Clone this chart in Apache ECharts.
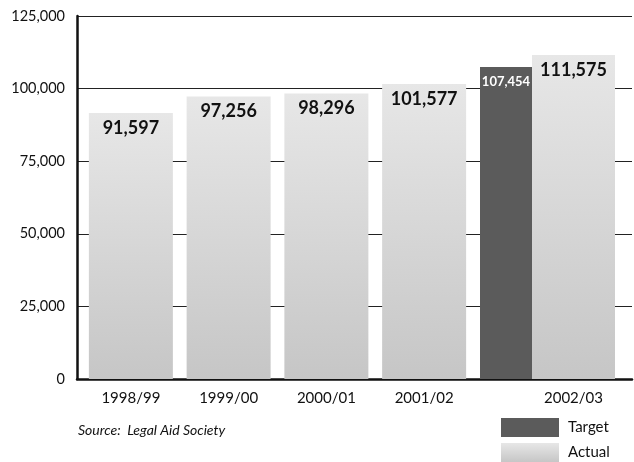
<!DOCTYPE html>
<html>
<head>
<meta charset="utf-8">
<script src="https://cdn.jsdelivr.net/npm/echarts@6/dist/echarts.min.js"></script>
<style>
  html, body { margin: 0; padding: 0; background: #fff; }
  #main { width: 634px; height: 462px; }
</style>
</head>
<body>
<div id="main"></div>
<script>
var years = ['1998/99', '1999/00', '2000/01', '2001/02'];
var actualValues = [91597, 97256, 98296, 101577];
var lastYear = ['2002/03'];
var lastActual = [111575];
var lastTarget = [107454];
var yTicks = [0, 25000, 50000, 75000, 100000, 125000];

var font = "Lato, 'Noto Sans', sans-serif";
function fmt(v) { return Number(v).toLocaleString('en-US'); }

var lightGray = new echarts.graphic.LinearGradient(0, 0, 0, 1, [
    { offset: 0, color: '#e7e7e7' },
    { offset: 1, color: '#c6c6c6' }
]);
var darkGray = '#5b5b5b';

var chart = echarts.init(document.getElementById('main'), null, { renderer: 'canvas' });

var yMin = yTicks[0], yMax = yTicks[yTicks.length - 1], yStep = yTicks[1] - yTicks[0];

var barLabel = {
    show: true, position: 'insideTop', distance: 6, fontFamily: font, fontSize: 18,
    fontWeight: 'bold', color: '#111', formatter: function (p) { return fmt(p.value); }
};

var option = {
    backgroundColor: '#ffffff',
    animation: false,
    grid: [
        { left: 77, right: 2, top: 16, bottom: 83 },   // frame, y axis, gridlines
        { left: 82, width: 391, top: 16, bottom: 83 }, // four earlier years
        { left: 473, width: 149, top: 16, bottom: 83 } // 2002/03 group
    ],
    xAxis: [
        { gridIndex: 0, type: 'value', min: 0, max: 1,
          axisLine: { show: true, onZero: false, lineStyle: { color: '#111', width: 2.5 } },
          axisTick: { show: false }, axisLabel: { show: false }, splitLine: { show: false } },
        { gridIndex: 1, type: 'category', data: years,
          axisLine: { show: false }, axisTick: { show: false },
          axisLabel: { margin: 12, fontFamily: font, fontSize: 15, color: '#111' } },
        { gridIndex: 2, type: 'category', data: lastYear,
          axisLine: { show: false }, axisTick: { show: false },
          axisLabel: { margin: 12, fontFamily: font, fontSize: 15, color: '#111', padding: [0, 0, 0, 52] } }
    ],
    yAxis: [
        { gridIndex: 0, type: 'value', min: yMin, max: yMax, interval: yStep,
          axisLine: { show: true, lineStyle: { color: '#111', width: 2.5 } },
          axisTick: { show: false },
          axisLabel: { margin: 12, fontFamily: font, fontSize: 14.5, color: '#111', formatter: fmt },
          splitLine: { show: true, lineStyle: { color: '#222', width: 1.2 } } },
        { gridIndex: 1, type: 'value', min: yMin, max: yMax, show: false },
        { gridIndex: 2, type: 'value', min: yMin, max: yMax, show: false }
    ],
    legend: {
        orient: 'vertical', left: 501, top: 418, padding: 0, itemWidth: 58, itemHeight: 19, itemGap: 6,
        icon: 'rect', data: ['Target', 'Actual'],
        textStyle: { fontFamily: font, fontSize: 15, color: '#111', padding: [0, 0, 0, 4] }
    },
    graphic: [{
        type: 'text', left: 78, top: 423,
        style: { text: 'Source:  Legal Aid Society', fontFamily: font, fontSize: 14, fontStyle: 'italic', fill: '#111' }
    }],
    series: [
        { name: 'Actual', type: 'bar', xAxisIndex: 1, yAxisIndex: 1, data: actualValues, barWidth: 84,
          itemStyle: { color: lightGray }, label: barLabel },
        { name: 'Target', type: 'bar', xAxisIndex: 2, yAxisIndex: 2, data: lastTarget, barWidth: 52,
          itemStyle: { color: darkGray },
          label: { show: true, position: 'insideTop', distance: 8, fontFamily: font, fontSize: 13,
                   fontWeight: 'bold', color: '#fff', formatter: function (p) { return fmt(p.value); } } },
        { name: 'Actual', type: 'bar', xAxisIndex: 2, yAxisIndex: 2, data: lastActual, barWidth: 83, barGap: '0%',
          itemStyle: { color: lightGray }, label: barLabel }
    ]
};

chart.setOption(option);
</script>
</body>
</html>
